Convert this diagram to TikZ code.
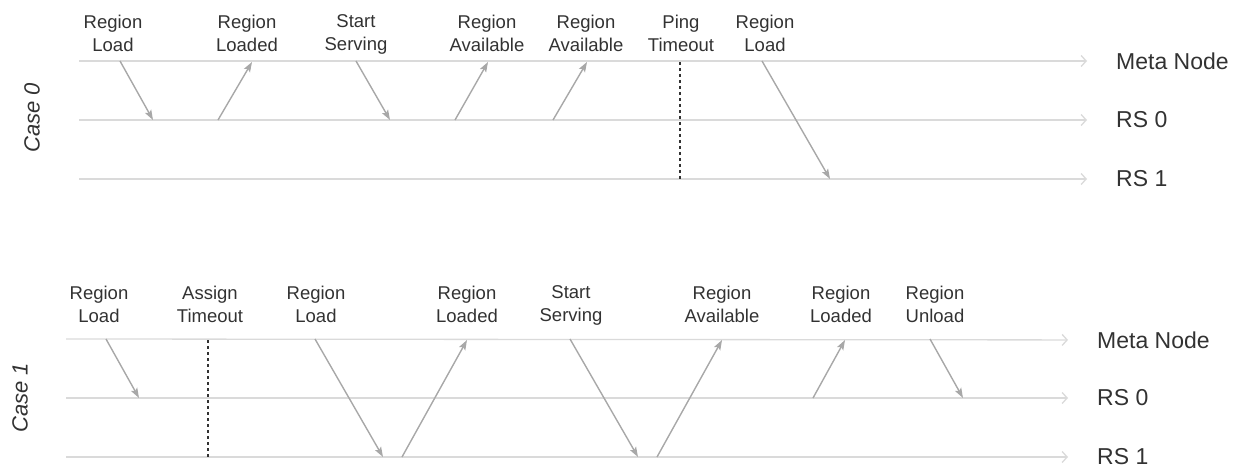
\documentclass[tikz,border=0pt]{standalone}
\usepackage{fontspec}
\setmainfont{Liberation Sans}
\usetikzlibrary{arrows.meta,positioning}
\definecolor{lanegray}{RGB}{218,218,218}
\definecolor{msggray}{RGB}{168,168,168}
\definecolor{txtgray}{RGB}{50,50,50}

\begin{document}
\begin{tikzpicture}[x=1pt, y=-1pt,
event/.style={anchor=north, align=center, text=txtgray, inner sep=0pt, font=\fontsize{18.5}{23}\selectfont},
lane/.style={anchor=west, text=txtgray, inner sep=0pt, font=\fontsize{23}{28}\selectfont},
case/.style={rotate=90, text=txtgray, inner sep=0pt, font=\fontsize{22}{26}\selectfont\itshape},
timeline/.style={draw=lanegray, line width=1.3pt, shorten >=29pt, -{Straight Barb[length=5pt, width=11pt]}},
message/.style={draw=msggray, line width=1.4pt, -{Stealth[length=10pt, width=7pt, inset=2pt]}},
timeout/.style={draw=txtgray, line width=1.2pt, dash pattern=on 3pt off 3pt},
]
\useasboundingbox (0,0) rectangle (1249,465);

% case 0
\node[case] (case0) at (32,118) {Case 0};
\node[lane] (meta0) at (1116,61) {Meta Node};
\node[lane] (rs00) at (1116,120) {RS 0};
\node[lane] (rs10) at (1116,179) {RS 1};
\coordinate (meta0-start) at (79,61);
\coordinate (rs00-start) at (79,120);
\coordinate (rs10-start) at (79,179);
\draw[timeline] (meta0-start) -- (meta0);
\draw[timeline] (rs00-start) -- (rs00);
\draw[timeline] (rs10-start) -- (rs10);

\node[event] (load0) at (113,14.5) {Region\\Load};
\node[event] (loaded0) at (247,14.5) {Region\\Loaded};
\node[event] (serving0) at (356,14.5) {Start\\Serving};
\node[event] (avail0) at (487,14.5) {Region\\Available};
\node[event] (availb0) at (586,14.5) {Region\\Available};
\node[event] (ping0) at (681,14.5) {Ping\\Timeout};
\node[event] (reload0) at (765,14.5) {Region\\Load};

\coordinate (load0-from) at (120,61);   \coordinate (load0-to) at (153,120);
\coordinate (loaded0-from) at (218,120); \coordinate (loaded0-to) at (252,62);
\coordinate (serving0-from) at (356,61); \coordinate (serving0-to) at (390,120);
\coordinate (avail0-from) at (455,120); \coordinate (avail0-to) at (488,62);
\coordinate (availb0-from) at (553,120); \coordinate (availb0-to) at (587,62);
\coordinate (ping0-from) at (680,62);   \coordinate (ping0-to) at (680,179);
\coordinate (reload0-from) at (762,61); \coordinate (reload0-to) at (830,179);

\draw[message] (load0-from) -- (load0-to);
\draw[message] (loaded0-from) -- (loaded0-to);
\draw[message] (serving0-from) -- (serving0-to);
\draw[message] (avail0-from) -- (avail0-to);
\draw[message] (availb0-from) -- (availb0-to);
\draw[timeout] (ping0-from) -- (ping0-to);
\draw[message] (reload0-from) -- (reload0-to);

% case 1
\node[case] (case1) at (20,398) {Case 1};
\node[lane] (meta1) at (1097,340) {Meta Node};
\node[lane] (rs01) at (1097,398) {RS 0};
\node[lane] (rs11) at (1097,457) {RS 1};
\coordinate (meta1-start) at (66,339);
\coordinate (rs01-start) at (66,398);
\coordinate (rs11-start) at (66,457);
\draw[timeline] (meta1-start) -- (meta1);
\draw[timeline] (rs01-start) -- (rs01);
\draw[timeline] (rs11-start) -- (rs11);

\node[event] (load1) at (99,285.5) {Region\\Load};
\node[event] (assign1) at (210,285.5) {Assign\\Timeout};
\node[event] (reload1) at (316,285.5) {Region\\Load};
\node[event] (loaded1) at (467,285.5) {Region\\Loaded};
\node[event] (serving1) at (571,285.5) {Start\\Serving};
\node[event] (avail1) at (722,285.5) {Region\\Available};
\node[event] (loadedb1) at (841,285.5) {Region\\Loaded};
\node[event] (unload1) at (935,285.5) {Region\\Unload};

\coordinate (load1-from) at (106,339);   \coordinate (load1-to) at (139,398);
\coordinate (assign1-from) at (208,340); \coordinate (assign1-to) at (208,457);
\coordinate (reload1-from) at (315,339); \coordinate (reload1-to) at (383,457);
\coordinate (loaded1-from) at (402,457); \coordinate (loaded1-to) at (467,340);
\coordinate (serving1-from) at (570,339); \coordinate (serving1-to) at (638,457);
\coordinate (avail1-from) at (657,457);  \coordinate (avail1-to) at (722,340);
\coordinate (loadedb1-from) at (813,398); \coordinate (loadedb1-to) at (845,340);
\coordinate (unload1-from) at (930,339); \coordinate (unload1-to) at (963,398);

\draw[message] (load1-from) -- (load1-to);
\draw[timeout] (assign1-from) -- (assign1-to);
\draw[message] (reload1-from) -- (reload1-to);
\draw[message] (loaded1-from) -- (loaded1-to);
\draw[message] (serving1-from) -- (serving1-to);
\draw[message] (avail1-from) -- (avail1-to);
\draw[message] (loadedb1-from) -- (loadedb1-to);
\draw[message] (unload1-from) -- (unload1-to);
\end{tikzpicture}
\end{document}
